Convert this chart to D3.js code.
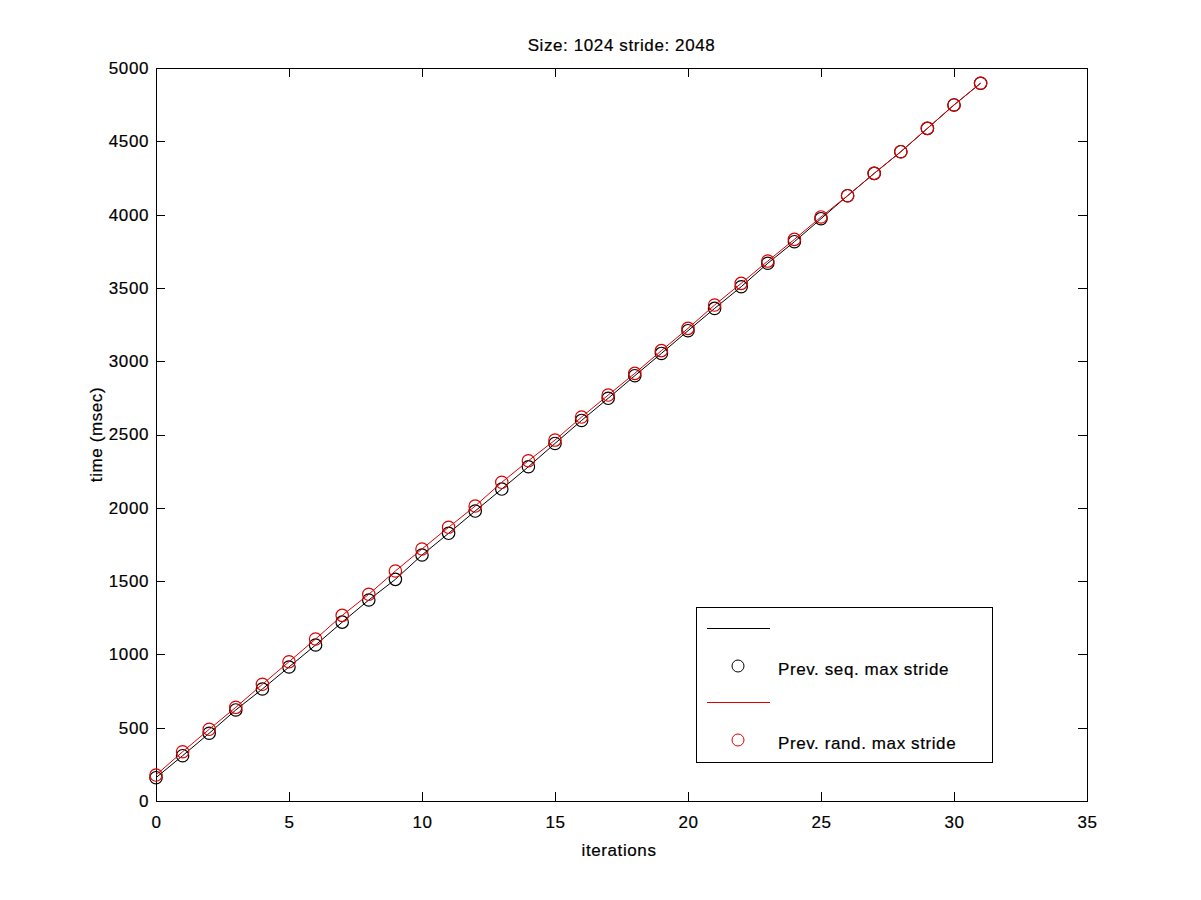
<!DOCTYPE html>
<html>
<head>
<meta charset="utf-8">
<script src="https://cdn.jsdelivr.net/npm/d3@7"></script>
<style>
  body { margin: 0; background: #fff; }
  svg { display: block; }
  text { font-family: "Liberation Sans", Arial, sans-serif; fill: #000; }
</style>
</head>
<body>
<div id="chart"></div>
<script>
const iterations = d3.range(0, 32);
const seqMaxStride = [159, 309, 462, 621, 764, 914, 1064, 1220, 1371, 1512,
  1678, 1826, 1978, 2128, 2280, 2439, 2596, 2747, 2901, 3053,
  3208, 3360, 3508, 3668, 3815, 3972, 4129, 4281, 4429, 4588, 4748, 4896];
const randMaxStride = [177, 336, 489, 639, 796, 950, 1105, 1266, 1410, 1569,
  1719, 1867, 2012, 2174, 2321, 2462, 2619, 2769, 2917, 3072,
  3224, 3383, 3531, 3683, 3831, 3984, 4129, 4281, 4429, 4588, 4748, 4896];
const xTicks = [0, 5, 10, 15, 20, 25, 30, 35];
const yTicks = [0, 500, 1000, 1500, 2000, 2500, 3000, 3500, 4000, 4500, 5000];
const titleText = "Size: 1024 stride: 2048";
const xLabel = "iterations";
const yLabel = "time (msec)";
const seriesNames = ["Prev. seq. max stride", "Prev. rand. max stride"];
const seriesColors = ["#000000", "#dd0000"];

const W = 1201, H = 900;
const L = 156, R = 1087, T = 68, B = 801;

const svg = d3.select("#chart").append("svg").attr("width", W).attr("height", H);
svg.append("rect").attr("width", W).attr("height", H).attr("fill", "#fff");

const x = d3.scaleLinear().domain([0, 35]).range([L, R]);
const y = d3.scaleLinear().domain([0, 5000]).range([B, T]);

const tickLen = 9;
const fontSize = 17;
const ls = "0.6px";

function styleText(sel) {
  sel.attr("font-size", fontSize).attr("font-family", "Liberation Sans, Arial, sans-serif")
    .attr("letter-spacing", ls).attr("fill", "#000")
    .attr("stroke", "#000").attr("stroke-width", 0.2);
}

// Axes (ticks inward, mirrored)
const fmt = d3.format("d");
const gx = svg.append("g").attr("transform", `translate(0,${B})`)
  .call(d3.axisBottom(x).tickValues(xTicks).tickFormat(fmt).tickSize(-tickLen).tickPadding(15).tickSizeOuter(0));
const gxt = svg.append("g").attr("transform", `translate(0,${T})`)
  .call(d3.axisTop(x).tickValues(xTicks).tickSize(-tickLen).tickFormat("").tickSizeOuter(0));
const gy = svg.append("g").attr("transform", `translate(${L},0)`)
  .call(d3.axisLeft(y).tickValues(yTicks).tickFormat(fmt).tickSize(-tickLen).tickPadding(7).tickSizeOuter(0));
const gyr = svg.append("g").attr("transform", `translate(${R},0)`)
  .call(d3.axisRight(y).tickValues(yTicks).tickSize(-tickLen).tickFormat("").tickSizeOuter(0));

[gx, gxt, gy, gyr].forEach(g => {
  g.select(".domain").remove();
  g.selectAll("line").attr("stroke", "#000").attr("shape-rendering", "crispEdges");
  styleText(g.selectAll("text"));
});

svg.append("rect").attr("x", L).attr("y", T).attr("width", R - L).attr("height", B - T)
  .attr("fill", "none").attr("stroke", "#000").attr("shape-rendering", "crispEdges");

// Series
const seriesData = [seqMaxStride, randMaxStride];
const line = d3.line().x((d, i) => x(iterations[i])).y(d => y(d));
seriesData.forEach((vals, si) => {
  svg.append("path").datum(vals).attr("d", line)
    .attr("fill", "none").attr("stroke", seriesColors[si]).attr("stroke-width", 1);
  svg.append("g").selectAll("circle").data(vals).join("circle")
    .attr("cx", (d, i) => x(iterations[i])).attr("cy", d => y(d)).attr("r", 6.2)
    .attr("fill", "none").attr("stroke", seriesColors[si]).attr("stroke-width", 1.2);
});

// Title and labels
styleText(svg.append("text").attr("x", (L + R) / 2).attr("y", 51).attr("text-anchor", "middle").text(titleText));
styleText(svg.append("text").attr("x", 619).attr("y", 856).attr("text-anchor", "middle").text(xLabel));
styleText(svg.append("text").attr("transform", `translate(102,${(T + B) / 2}) rotate(-90)`)
  .attr("text-anchor", "middle").text(yLabel));

// Legend
const lg = svg.append("g");
lg.append("rect").attr("x", 696).attr("y", 607).attr("width", 296).attr("height", 155)
  .attr("fill", "#fff").attr("stroke", "#000").attr("shape-rendering", "crispEdges");
const legRows = [628, 702];
seriesNames.forEach((name, si) => {
  const ly = legRows[si];
  lg.append("line").attr("x1", 707).attr("x2", 770).attr("y1", ly).attr("y2", ly)
    .attr("stroke", seriesColors[si]).attr("shape-rendering", "crispEdges");
  lg.append("circle").attr("cx", 738).attr("cy", ly + 38).attr("r", 6)
    .attr("fill", "none").attr("stroke", seriesColors[si]);
  styleText(lg.append("text").attr("x", 778).attr("y", ly + 47).attr("letter-spacing", "0.8px").text(name));
});
</script>
</body>
</html>
